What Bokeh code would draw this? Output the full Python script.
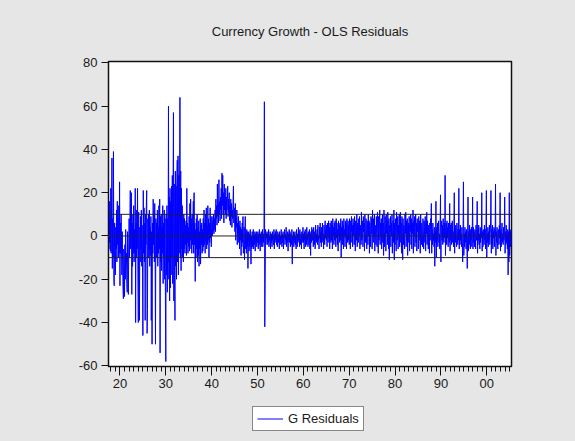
from bokeh.plotting import figure
from bokeh.layouts import column
from bokeh.models import (Range1d, FixedTicker, Span, Legend, LegendItem,
                          ColumnDataSource, Label)
from bokeh.embed import file_html
from bokeh.resources import INLINE

# ---- data: monthly OLS residuals, 1917:07 .. 2005:05 (one row per year) ----
start_year = 1917
start_month = 7

res_1910s = [
    5, -6, 16, -3, 8, -7,
    22, -8, 12, 36, -15, 8, -10, 39, -20, -23, 6, -12,
    -18, 4, -6, 12, -12, 16, -4, 8, -10, 14, -8, 25,
]
res_1920s = [
    -23, 6, -8, 10, -4, -18, 2, -12, -24, -29, -6, -15,
    -28, -4, -20, 3, -12, -8, -22, -26, 2, -14, -27, -6,
    8, -10, 4, 21, -6, 12, 20, -27, 6, -14, 10, -8,
    14, -12, 3, -8, 22, -40, 6, -10, 12, -6, 22, -18,
    -40, 11, -8, -39, 4, -12, 9, -6, 12, -14, 5, -10,
    -46, 21, -8, 13, -12, 6, -39, 10, -4, 14, 21, -45,
    -34, 8, -10, 10, -6, 12, -14, 4, -9, 9, -39, 2,
    -50, 6, -8, 17, -4, 10, -12, 15, -6, -50, 8, -10,
    6, -10, 12, -14, 4, -8, 14, -6, 17, -54, 9, -12,
    10, -16, 4, -8, 14, -22, 6, -10, 12, -20, 8, -30,
]
res_1930s = [
    -58, 10, -18, 14, -26, 8, -12, 60, -20, 18, -30, 22,
    -24, 16, -18, 23, -10, 28, -22, 20, 57, -30, 24, -16,
    -39, 30, -14, 23, -20, 26, 35, -12, 37, -18, 28, -8,
    20, 64, -10, 30, -16, 22, -6, 14, -10, 8, -12, 10,
    -6, 8, -8, 5, -4, 7, -9, 22, -3, 6, -8, 4,
    -5, 9, -7, 15, -2, 17, -6, 8, -8, 10, -4, 6,
    16, -8, 20, -4, 6, -21, 3, -10, 8, -6, 10, -12,
    4, -9, 7, -14, 2, -6, 8, -13, 5, -4, 6, -8,
    3, -7, 8, -5, 12, -4, 6, -8, 10, -3, 13, -6,
    5, -4, 14, -2, 8, -10, 6, -3, 13, -1, 9, -5,
]
res_1940s = [
    4, 9, 0, 7, 2, 10, 1, 8, 3, 12, 2, 17,
    8, 14, 5, 24, 9, 15, 6, 26, 10, 16, 7, 18,
    12, 22, 8, 29, 14, 28, 10, 20, 6, 24, 12, 18,
    10, 22, 8, 18, 12, 16, 23, 9, 17, 11, 20, 7,
    14, 5, 17, 9, 15, 4, 12, 8, 16, 23, 6, 13,
    10, 2, 15, -2, 8, 4, 12, -4, 6, 1, 9, -3,
    5, -6, 7, -2, 4, -9, 3, -5, 6, -3, 9, -8,
    -4, 4, -11, 2, 9, -6, 1, -8, 3, -5, 2, -15,
    -3, 2, -7, 1, -5, 3, -4, -13, 0, -6, 2, -5,
    -2, 3, -6, 0, -4, 2, -7, 1, -3, 2, -5, 0,
]
res_1950s = [
    -3, 2, -6, 1, -4, 3, -2, -7, 1, -3, 2, -5,
    -2, 3, -5, 1, -3, 2, 62, -42, -22, 3, -4, 1,
    -1, 2, -4, 1, -3, 3, -5, 0, -2, 2, -6, 1,
    -3, 1, -5, 2, -2, 0, -4, 3, -6, 1, -3, 2,
    -2, 3, -4, 0, -5, 2, -1, -3, 1, -6, 2, -2,
    0, -4, 3, -2, -5, 1, -3, 2, -6, 0, -1, 3,
    -4, 1, -2, 4, -5, 0, -3, 2, -7, 1, -2, 3,
    -3, 2, -5, 1, -1, -4, 3, -13, 0, -2, 2, -5,
    1, -3, 2, -4, 0, -6, 3, -2, -5, 1, -3, 4,
    -2, 2, -5, 3, -1, -4, 1, -6, 2, -3, 0, 4,
]
res_1960s = [
    -3, 1, -6, 2, -2, 3, -5, 0, -4, 4, -2, 1,
    -5, 2, -1, -4, 3, -6, 1, -9, 2, -3, 4, -2,
    -2, 3, -5, 4, -1, -4, 2, -6, 5, -2, 1, -3,
    3, -4, 5, -2, 0, -6, 4, -1, 6, -3, 2, -5,
    4, -3, 6, -2, 1, -6, 5, 0, -4, 7, -1, 3,
    -2, 5, -5, 6, 0, -3, 7, -1, 4, -6, 6, 1,
    -3, 7, -2, 5, -6, 8, 0, 4, -4, 6, -2, 7,
    2, -5, 8, -1, 6, -4, 3, -7, 7, 0, 5, -3,
    6, -2, 8, -10, 4, 1, 7, -4, 5, -6, 8, 0,
    3, -5, 7, -1, 6, -6, 8, 2, -3, 7, -2, 5,
]
res_1970s = [
    -4, 8, 1, -6, 7, 2, 9, -3, 5, -5, 8, 0,
    6, -4, 9, 1, -7, 7, 3, -2, 10, -5, 6, 2,
    -3, 8, 0, 9, -6, 5, 2, -4, 11, -2, 7, 4,
    -5, 9, 2, 6, -7, 10, 1, -3, 8, 3, -6, 7,
    4, -4, 10, 0, 7, -8, 6, 2, -5, 9, 1, 8,
    -6, 12, 3, -3, 8, 0, 10, -7, 5, 2, -4, 9,
    1, -5, 11, 4, -8, 9, -2, 7, 12, -4, 6, 0,
    8, -6, 5, 10, -3, 6, -9, 12, 2, -5, 9, 3,
    -7, 10, 1, 7, -4, 11, 3, -6, 8, -11, 5, 2,
    9, -5, 6, 0, 10, -8, 4, 7, -3, 12, -11, 6,
]
res_1980s = [
    -4, 8, 2, -7, 11, 3, -2, 9, -6, 5, 1, 10,
    -5, 7, 11, -3, 6, -8, 9, 2, -11, 8, -4, 5,
    3, -6, 10, 1, 11, -5, 7, -2, 8, -9, 4, 6,
    -3, 9, -7, 5, 2, 10, -4, 8, -6, 6, 1, 12,
    -8, 7, 0, 9, -5, 4, 10, -3, 6, -7, 8, 2,
    5, -6, 9, -2, 7, 0, -8, 10, 3, -4, 6, 1,
    -5, 8, 2, -6, 7, 4, -3, 9, -7, 6, 1, 11,
    -4, 7, 0, -6, 5, 3, -8, 6, -2, 8, 4, 15,
    -8, 3, -4, 6, -2, 1, -5, 4, -14, 2, -3, 16,
    -10, 4, -2, 6, -5, 2, 7, -3, 1, -6, 5, 19,
]
res_1990s = [
    -12, 3, 7, -2, 5, -4, 8, 0, -3, 6, -1, 28,
    -9, 2, 6, -4, 7, -1, 4, -5, 6, 0, -3, 15,
    -7, 5, -2, 6, -4, 3, 7, -3, 2, -5, 4, 20,
    -8, 4, -3, 5, 0, -5, 6, 2, -4, 3, -2, 22,
    -6, 3, -4, 5, -2, 1, -5, 4, -3, -12, 2, 25,
    -9, 1, -5, 4, -3, 2, -6, 3, -2, -15, 1, 18,
    -7, 2, -4, 5, -1, -6, 3, -2, 4, -5, 0, 18,
    -6, 4, -3, 2, -5, 3, -1, -6, 5, -2, 1, 16,
    -8, 3, -2, 5, -4, 1, -6, 4, -3, 2, -1, 20,
    -7, 2, -5, 3, 0, -4, 5, -2, 3, -6, 4, 21,
]
res_2000s = [
    -10, 1, -3, 4, -5, 2, -2, 5, -4, 1, 6, 21,
    -8, 3, -4, 5, -6, 2, -1, 4, -5, 3, 0, 24,
    -9, 2, -3, 4, -2, -6, 3, 1, -4, 5, -1, 20,
    -7, 3, -5, 2, 6, -3, 1, -4, 4, -2, 0, 18,
    -8, 2, -4, 5, -3, 1, -6, 3, -18, 2, -12, 20,
    -9, 3, -5, 2, -4,
]

ref_levels = [10, 0, -10]
y_ticks = [-60, -40, -20, 0, 20, 40, 60, 80]
y_tick_labels = ["-60", "-40", "-20", "0", "20", "40", "60", "80"]
x_major = [1920, 1930, 1940, 1950, 1960, 1970, 1980, 1990, 2000]
x_major_labels = ["20", "30", "40", "50", "60", "70", "80", "90", "00"]
x_minor = list(range(1918, 2006))

title_text = "Currency Growth - OLS Residuals"
series_name = "G Residuals"

# ---- build series ----
resid = (res_1910s + res_1920s + res_1930s + res_1940s + res_1950s
         + res_1960s + res_1970s + res_1980s + res_1990s + res_2000s)
dates = [start_year + (start_month - 1 + i) / 12.0 for i in range(len(resid))]
src = ColumnDataSource(data=dict(date=dates, resid=resid))

FONT = "Liberation Sans"
BG = "#e6e6e6"
INK = "#1a1a1a"
W = 575

# ---- title strip (its frame is aligned with the main frame by the column) ----
top = figure(width=W, height=55, output_backend="svg", toolbar_location=None,
             x_axis_type=None, y_axis_type=None, x_range=Range1d(0, 1), y_range=Range1d(0, 1),
             min_border=0, border_fill_color=BG, background_fill_color=BG,
             outline_line_color=None, styles={"background-color": BG})
top.grid.visible = False
top.add_layout(Label(x=201.5, y=24, x_units="screen", y_units="screen", text=title_text,
                     text_align="center", text_baseline="middle",
                     text_font=FONT, text_font_size="13px", text_color=INK))

# ---- main plot ----
main = figure(width=W, height=348, output_backend="svg", toolbar_location=None,
              x_range=Range1d(1917.5, 2005.4), y_range=Range1d(-60.3, 80.6),
              min_border_left=108, min_border_right=64, min_border_top=6, min_border_bottom=37,
              background_fill_color="white", border_fill_color=BG,
              outline_line_color="#111111", outline_line_width=1.5,
              styles={"background-color": BG})
main.grid.visible = False

line = main.line("date", "resid", source=src, line_color="#0000ff", line_width=1)

for lv in ref_levels:
    main.add_layout(Span(location=lv, dimension="width", line_color="#222222", line_width=1))

xa = main.xaxis[0]
xa.ticker = FixedTicker(ticks=x_major, minor_ticks=x_minor)
xa.major_label_overrides = {t: l for t, l in zip(x_major, x_major_labels)}
xa.major_tick_in = 0
xa.major_tick_out = 9
xa.minor_tick_in = 0
xa.minor_tick_out = 5
xa.major_label_standoff = 3
xa.axis_line_color = "#111111"
xa.major_tick_line_color = "#111111"
xa.minor_tick_line_color = "#111111"
xa.major_label_text_font = FONT
xa.major_label_text_font_size = "13px"
xa.major_label_text_color = INK

ya = main.yaxis[0]
ya.ticker = FixedTicker(ticks=y_ticks)
ya.major_label_overrides = {t: l for t, l in zip(y_ticks, y_tick_labels)}
ya.major_tick_in = 0
ya.major_tick_out = 7
ya.minor_tick_line_color = None
ya.major_label_standoff = 4
ya.axis_line_color = "#111111"
ya.major_tick_line_color = "#111111"
ya.major_label_text_font = FONT
ya.major_label_text_font_size = "13px"
ya.major_label_text_color = INK

# ---- legend strip (its frame is aligned with the main frame by the column) ----
bot = figure(width=W, height=38, output_backend="svg", toolbar_location=None,
             x_axis_type=None, y_axis_type=None, x_range=Range1d(0, 1), y_range=Range1d(0, 1),
             min_border=0, border_fill_color=BG, background_fill_color=BG,
             outline_line_color=None, styles={"background-color": BG})
bot.grid.visible = False
# same series, drawn outside this strip's ranges: only serves as the legend key
key = bot.line("date", "resid", source=src, line_color="#0000ff", line_width=1)
legend = Legend(items=[LegendItem(label=series_name, renderers=[key])],
                location=(144, 10), orientation="horizontal",
                glyph_width=26, glyph_height=13, label_height=13,
                label_standoff=5, padding=4, margin=0,
                label_text_font=FONT, label_text_font_size="13px",
                label_text_color=INK,
                border_line_color="#111111", border_line_width=1,
                background_fill_color="white", background_fill_alpha=1.0)
bot.add_layout(legend, "center")

p = column(top, main, bot, spacing=0, styles={"background-color": BG})

open("out.html", "w").write(file_html(p, INLINE))
